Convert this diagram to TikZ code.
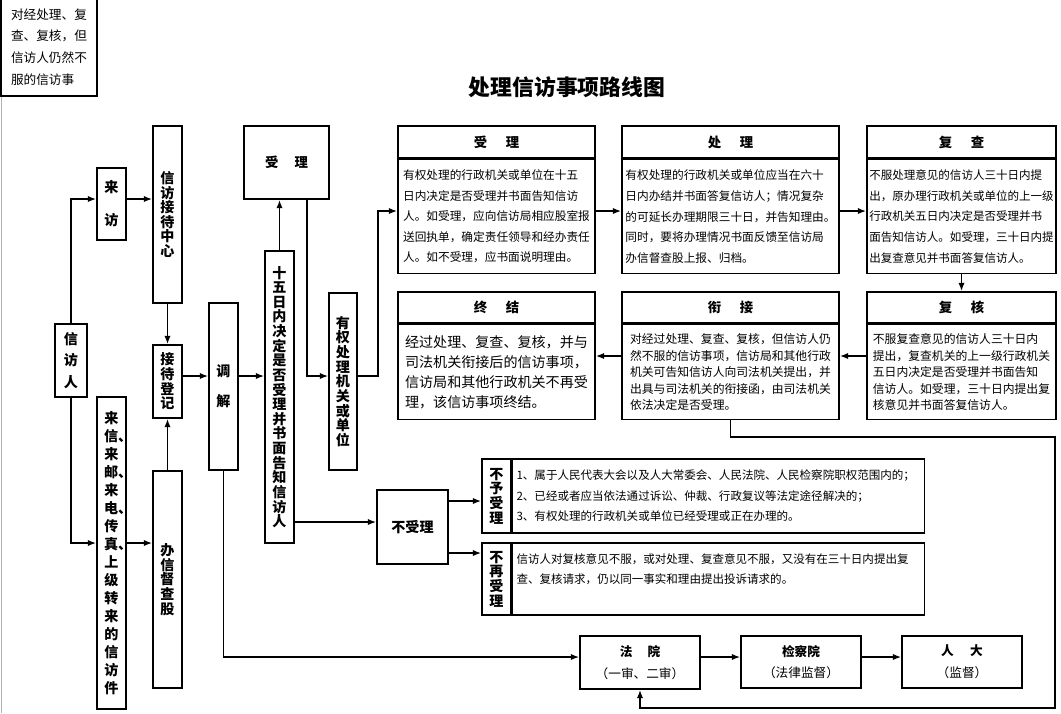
\documentclass[tikz,border=0pt]{standalone}
\usepackage{fontspec}
\setmainfont{Noto Sans CJK SC}
\usetikzlibrary{positioning,arrows.meta}
\XeTeXlinebreaklocale "zh"
\XeTeXlinebreakskip=0pt plus 1pt
\newcommand{\shufont}{\bfseries\fontsize{10}{10.4}\selectfont}
\newcommand{\zhengwen}{\fontsize{8.3}{14.6}\selectfont}
\newcommand{\xiaowen}{\fontsize{8.4}{11.7}\selectfont}
\newcommand{\biaotifont}{\bfseries\fontsize{9.5}{11}\selectfont}
\tikzset{
  >={Latex[length=6pt,width=4.5pt]},
  kuang/.style={draw, line width=1.1pt, inner sep=0pt},
  wh/.style 2 args={minimum width=#1*0.025cm, minimum height=#2*0.025cm},
  shu/.style={kuang, font=\shufont, text width=10.5pt, align=center},
  biaoti/.style={kuang, font=\biaotifont},
  neirong/.style={kuang, font=\zhengwen, align=left},
  yuan/.style={kuang, font=\fontsize{9}{15.5}\selectfont, align=center}
}
\tikzstyle{line} = [draw, line width=1.1pt, ->]

\begin{document}
\begin{tikzpicture}[x=0.025cm,y=-0.025cm]
\useasboundingbox (0,0) rectangle (1061,713);
\clip (0,0) rectangle (1061,713);
\draw[gray!60,line width=0.7pt] (1,0) -- (1,713);
% note and title
\node[kuang, wh={96}{98}, font=\fontsize{9}{15.4}\selectfont, align=left] (zhu) at (49,47) {对经处理、复\\查、复核，但\\信访人仍然不\\服的信访事};
\node[font=\bfseries\fontsize{15.5}{18}\selectfont] (tu) at (567,87) {处理信访事项路线图};

% rows of the connectors
\coordinate (hA) at (0,199);
\coordinate (hB) at (0,376);
\coordinate (hC) at (0,543);
\coordinate (hD) at (0,211);
\coordinate (hE) at (0,522);
\coordinate (hF) at (0,501);
\coordinate (hG) at (0,553);
\coordinate (hH) at (0,657);
\coordinate (hI) at (0,356);

% left column
\node[shu, wh={32}{73}] (xinfangren) at (71,360.5) {信\\[5pt]访\\[5pt]人};
\node[shu, wh={29}{72}] (laifang) at (111.5,204) {来\\[13pt]访};
\node[shu, wh={29}{312}, font=\bfseries\fontsize{10}{12.8}\selectfont] (laixin) at (111.5,553) {来信、来邮、来电、传真、上级转来的信访件};
\node[shu, wh={29}{177}] (zhongxin) at (167.5,214.5) {信访接待中心};
\node[shu, wh={29}{73}] (dengji) at (167.5,381.5) {接待登记};
\node[shu, wh={29}{217}] (banxin) at (167.5,579.5) {办信督查股};
\node[shu, wh={29}{167}] (tiaojie) at (223.5,386.5) {调\\[11pt]解};
\node[shu, wh={29}{292}] (shiwuri) at (279.5,397) {十五日内决定是否受理并书面告知信访人};
\node[kuang, wh={85}{73}, font=\biaotifont] (xiaoshouli) at (286.5,162.5) {受\hspace{1.2em}理};
\node[shu, wh={28}{177}] (youquan) at (343,381.5) {有权处理机关或单位};
\node[kuang, wh={71}{74}, font=\bfseries\fontsize{10}{12}\selectfont] (bushouli) at (412.5,527) {不受理};

% not accepted
\node[shu, wh={29}{74}] (buyu) at (496.5,496) {不予受理};
\node[kuang, wh={412}{74}, font=\fontsize{8.2}{14.6}\selectfont, text width=10.1cm, inner xsep=0.1cm, align=left, right=0pt of buyu] (buyunr) {1、属于人民代表大会以及人大常委会、人民法院、人民检察院职权范围内的；\\2、已经或者应当依法通过诉讼、仲裁、行政复议等法定途径解决的；\\3、有权处理的行政机关或单位已经受理或正在办理的。};
\node[shu, wh={29}{72}] (buzai) at (496.5,579) {不再受理};
\node[kuang, wh={412}{72}, font=\fontsize{8.2}{14.6}\selectfont, text width=10.1cm, inner xsep=0.1cm, align=left, right=0pt of buzai] (buzainr) {信访人对复核意见不服，或对处理、复查意见不服，又没有在三十日内提出复\\查、复核请求，仍以同一事实和理由提出投诉请求的。\\\mbox{}};

% top row
\node[biaoti, wh={197}{32}] (shouli) at (496.5,142) {受\hspace{1.4em}理};
\node[neirong, wh={197}{114}, below=0pt of shouli] (shoulinr) {有权处理的行政机关或单位在十五\\日内决定是否受理并书面告知信访\\人。如受理，应向信访局相应股室报\\送回执单，确定责任领导和经办责任\\人。如不受理，应书面说明理由。};
\node[biaoti, wh={217}{32}] (chuli) at (730.5,142) {处\hspace{1.4em}理};
\node[neirong, wh={217}{114}, below=0pt of chuli] (chulinr) {有权处理的行政机关或单位应当在六十\\日内办结并书面答复信访人；情况复杂\\的可延长办理期限三十日，并告知理由。\\同时，要将办理情况书面反馈至信访局\\办信督查股上报、归档。};
\node[biaoti, wh={189}{32}] (fucha) at (961.5,142) {复\hspace{1.4em}查};
\node[neirong, wh={189}{114}, font=\fontsize{8.2}{14.6}\selectfont, below=0pt of fucha] (fuchanr) {不服处理意见的信访人三十日内提\\出，原办理行政机关或单位的上一级\\行政机关五日内决定是否受理并书\\面告知信访人。如受理，三十日内提\\出复查意见并书面答复信访人。};

% bottom row
\node[biaoti, wh={189}{31}] (fuhe) at (961.5,307.5) {复\hspace{1.4em}核};
\node[neirong, wh={189}{95}, font=\xiaowen, below=0pt of fuhe] (fuhenr) {不服复查意见的信访人三十日内\\提出，复查机关的上一级行政机关\\五日内决定是否受理并书面告知\\信访人。如受理，三十日内提出复\\核意见并书面答复信访人。};
\node[biaoti, wh={217}{31}] (xianjie) at (730.5,307.5) {衔\hspace{1.4em}接};
\node[neirong, wh={217}{95}, font=\xiaowen, below=0pt of xianjie] (xianjienr) {对经过处理、复查、复核，但信访人仍\\然不服的信访事项，信访局和其他行政\\机关可告知信访人向司法机关提出，并\\出具与司法机关的衔接函，由司法机关\\依法决定是否受理。};
\node[biaoti, wh={197}{31}] (zhongjie) at (496.5,307.5) {终\hspace{1.4em}结};
\node[neirong, wh={197}{95}, font=\fontsize{10}{14.2}\selectfont, below=0pt of zhongjie] (zhongjienr) {经过处理、复查、复核，并与\\司法机关衔接后的信访事项，\\信访局和其他行政机关不再受\\理，该信访事项终结。};

% courts
\node[yuan, wh={120}{53}] (fayuan) at (640,662.5) {\textbf{法\hspace{1.2em}院}\\（一审、二审）};
\node[yuan, wh={120}{52}] (jianchayuan) at (801,662) {\textbf{检察院}\\（法律监督）};
\node[yuan, wh={120}{52}] (renda) at (962,662) {\textbf{人\hspace{1.3em}大}\\（监督）};

% connectors
\draw[line] (xinfangren.north) |- (laifang.west |- hA);
\draw[line] (laifang.east |- hA) -- (zhongxin.west |- hA);
\draw[line] (xinfangren.south) |- (laixin.west |- hC);
\draw[line] (laixin.east |- hC) -- (banxin.west |- hC);
\draw[line] (zhongxin.south) -- (dengji.north);
\draw[line] (banxin.north) -- (dengji.south);
\draw[line] (dengji.east |- hB) -- (tiaojie.west |- hB);
\draw[line] (tiaojie.east |- hB) -- (shiwuri.west |- hB);
\draw[line] (shiwuri.north) -- (shiwuri.north |- xiaoshouli.south);
\coordinate (sx) at (307,0);
\draw[line] (xiaoshouli.south -| sx) |- (youquan.west |- hB);
\draw[line] (youquan.east |- hB) -- ++(20,0) |- (shoulinr.west |- hD);
\draw[line] (shoulinr.east |- hD) -- (chulinr.west |- hD);
\draw[line] (chulinr.east |- hD) -- (fuchanr.west |- hD);
\draw[line] (fuchanr.south) -- (fuhe.north);
\draw[line] (fuhenr.west |- hI) -- (xianjienr.east |- hI);
\draw[line] (xianjienr.west |- hI) -- (zhongjienr.east |- hI);
\coordinate (gA) at (1055,437);
\coordinate (gB) at (1055,708);
\draw[line] (xianjienr.south) |- (gA) -- (gB) -| (fayuan.south);
\draw[line] (shiwuri.east |- hE) -- (bushouli.west |- hE);
\draw[line] (bushouli.east |- hF) -- (buyu.west |- hF);
\draw[line] (bushouli.east |- hG) -- (buzai.west |- hG);
\draw[line] (tiaojie.south) |- (fayuan.west |- hH);
\draw[line] (fayuan.east |- hH) -- (jianchayuan.west |- hH);
\draw[line] (jianchayuan.east |- hH) -- (renda.west |- hH);
\end{tikzpicture}
\end{document}
